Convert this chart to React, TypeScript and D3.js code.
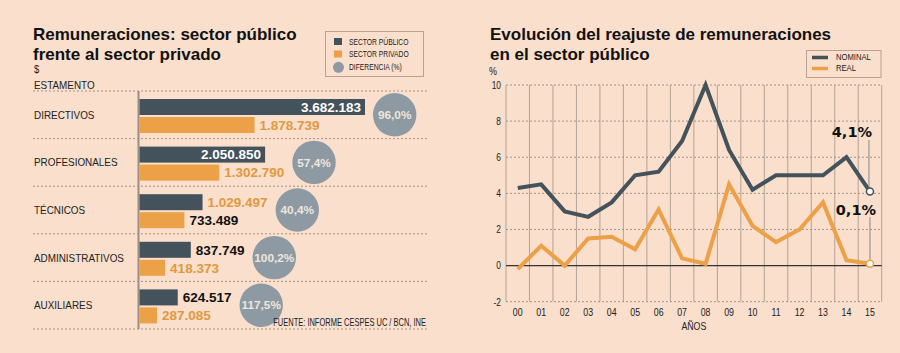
import React from 'react';
import * as d3 from 'd3';

// left chart data
const estamentos = ['DIRECTIVOS', 'PROFESIONALES', 'TÉCNICOS', 'ADMINISTRATIVOS', 'AUXILIARES'];
const sectorPublico = [3682183, 2050850, 1029497, 837749, 624517];
const sectorPrivado = [1878739, 1302790, 733489, 418373, 287085];
const diferencia = ['96,0%', '57,4%', '40,4%', '100,2%', '117,5%'];

// right chart data
const anios = ['00', '01', '02', '03', '04', '05', '06', '07', '08', '09', '10', '11', '12', '13', '14', '15'];
const nominal = [4.3, 4.5, 3.0, 2.7, 3.5, 5.0, 5.2, 6.9, 10.0, 6.4, 4.2, 5.0, 5.0, 5.0, 6.0, 4.1];
const real = [-0.2, 1.1, 0.0, 1.5, 1.6, 0.9, 3.1, 0.4, 0.1, 4.5, 2.2, 1.3, 2.0, 3.5, 0.3, 0.1];
const yTicks = [-2, 0, 2, 4, 6, 8, 10];

const BG = '#f9dfcc';
const DARK = '#44525c';
const ORANGE = '#eca048';
const ORANGE_TXT = '#e0993f';
const GREY = '#8e9aa3';
const GRID = '#a3948a';
const SANS = '"Liberation Sans", Arial, sans-serif';

// rough width of an Arial bold number label
const numFmt = (v: number) => d3.format(',')(v).replace(/,/g, '.');
const textW = (s: string, size: number) =>
  s.split('').reduce((a, c) => a + (c === '.' || c === ',' ? 0.278 : c === '%' ? 0.889 : 0.556), 0) * size;

// condensed text: no narrow face installed, so squeeze horizontally
function CText({ x, y, size, anchor = 'start', sx = 0.78, children }: any) {
  return (
    <text
      transform={`translate(${x},${y}) scale(${sx},1)`}
      textAnchor={anchor}
      fontFamily={SANS}
      fontSize={size}
      fill="#222"
    >
      {children}
    </text>
  );
}

function BarChart() {
  const x = d3.scaleLinear().domain([0, d3.max(sectorPublico) as number]).range([139.5, 365]);
  const y = d3.scaleBand().domain(estamentos).range([91, 329]);
  const step = y.bandwidth();
  const valSize = 13.5;

  return (
    <g>
      <text x={33} y={40} fontFamily={SANS} fontWeight="bold" fontSize={17} fill="#111">
        Remuneraciones: sector público
      </text>
      <text x={33} y={59.5} fontFamily={SANS} fontWeight="bold" fontSize={17} fill="#111">
        frente al sector privado
      </text>
      <CText x={34} y={73} size={10.5} sx={0.9}>$</CText>
      <CText x={34} y={88.5} size={11} sx={0.9}>ESTAMENTO</CText>

      {/* legend */}
      <rect x={325.5} y={31.5} width={98} height={45} fill="none" stroke="#b9a293" />
      <rect x={334} y={38} width={8} height={7} fill={DARK} />
      <rect x={334} y={50.5} width={8} height={7} fill={ORANGE} />
      <circle cx={338.5} cy={67.3} r={5.5} fill={GREY} />
      {['SECTOR PÚBLICO', 'SECTOR PRIVADO', 'DIFERENCIA (%)'].map((t, i) => (
        <CText key={t} x={349} y={45 + i * 12.4} size={9} sx={0.75}>
          {t}
        </CText>
      ))}

      {/* dashed separators */}
      {[...estamentos.map((e) => y(e) as number), 329].map((yy, i) => (
        <line key={i} x1={33} x2={427} y1={yy} y2={yy} stroke={GRID} strokeDasharray="2,2" />
      ))}
      <line x1={138.5} x2={138.5} y1={91} y2={329} stroke="#9a8d85" strokeWidth={2} />

      {estamentos.map((e, i) => {
        const g = y(e) as number;
        const mid = g + step / 2;
        const pubY = g + 8;
        const privY = g + 26;
        const pubEnd = x(sectorPublico[i]);
        const privEnd = x(sectorPrivado[i]);
        const pubTxt = numFmt(sectorPublico[i]);
        const privTxt = numFmt(sectorPrivado[i]);
        const pubInside = pubEnd - x(0) > textW(pubTxt, valSize) + 10;
        const swap = e === 'TÉCNICOS';
        const pubColor = pubInside ? '#fff' : swap ? ORANGE_TXT : '#111';
        const privColor = swap ? '#111' : ORANGE_TXT;
        const pubLabelEnd = pubInside ? pubEnd : pubEnd + 5 + textW(pubTxt, valSize);
        const privLabelEnd = privEnd + 5 + textW(privTxt, valSize);
        const r = 21.7;
        const cx = Math.max(pubLabelEnd, privLabelEnd) + 8 + r;
        return (
          <g key={e}>
            <CText x={34} y={mid + 4} size={11} sx={0.9}>{e}</CText>
            <rect x={x(0)} y={pubY} width={pubEnd - x(0)} height={16} fill={DARK} />
            <rect x={x(0)} y={privY} width={privEnd - x(0)} height={16} fill={ORANGE} />
            <text
              x={pubInside ? pubEnd - 4 : pubEnd + 5}
              y={pubY + 8 + 4.8}
              textAnchor={pubInside ? 'end' : 'start'}
              fontFamily={SANS}
              fontWeight="bold"
              fontSize={valSize}
              fill={pubColor}
            >
              {pubTxt}
            </text>
            <text x={privEnd + 5} y={privY + 8 + 4.8} fontFamily={SANS} fontWeight="bold" fontSize={valSize} fill={privColor}>
              {privTxt}
            </text>
            <circle cx={cx} cy={mid} r={r} fill={GREY} />
            <text x={cx} y={mid + 4.2} textAnchor="middle" fontFamily={SANS} fontWeight="bold" fontSize={11.8} fill="#efe6dc">
              {diferencia[i]}
            </text>
          </g>
        );
      })}

      <CText x={426} y={325.5} size={10} sx={0.75} anchor="end">
        FUENTE: INFORME CESPES UC / BCN, INE
      </CText>
    </g>
  );
}

function LineChart() {
  const x = d3.scaleBand().domain(anios).range([506, 881.7]);
  const y = d3.scaleLinear().domain([-2, 10]).range([301.7, 85]);
  const cx = (d: string) => (x(d) as number) + x.bandwidth() / 2;
  const line = d3
    .line<number>()
    .x((_, i) => cx(anios[i]))
    .y((v) => y(v));
  const last = anios.length - 1;
  const lastX = cx(anios[last]);

  return (
    <g>
      <text x={490} y={40} fontFamily={SANS} fontWeight="bold" fontSize={17} fill="#111">
        Evolución del reajuste de remuneraciones
      </text>
      <text x={490} y={59.5} fontFamily={SANS} fontWeight="bold" fontSize={17} fill="#111">
        en el sector público
      </text>
      <CText x={489} y={75} size={10.5} sx={0.85}>%</CText>

      {/* legend */}
      <rect x={806.5} y={50.5} width={74.5} height={27} fill="none" stroke="#b9a293" />
      <line x1={812} x2={828} y1={57.5} y2={57.5} stroke={DARK} strokeWidth={3.5} />
      <line x1={812} x2={828} y1={68.5} y2={68.5} stroke={ORANGE} strokeWidth={3.5} />
      <CText x={836} y={59.5} size={9} sx={0.85}>NOMINAL</CText>
      <CText x={836} y={71} size={9} sx={0.85}>REAL</CText>

      {/* grid */}
      {[...anios.map((a) => x(a) as number), x.range()[1]].map((xx, i) => (
        <line key={i} x1={xx} x2={xx} y1={y(10)} y2={y(-2)} stroke="#b3a396" strokeWidth={1} />
      ))}
      {yTicks.map((t) => (
        <g key={t}>
          <line
            x1={506}
            x2={881.7}
            y1={y(t)}
            y2={y(t)}
            stroke={t === 0 ? '#333' : GRID}
            strokeWidth={t === 0 ? 1.3 : 1}
            strokeDasharray={t === 0 ? undefined : '2,2'}
          />
          <CText x={501} y={y(t) + 3.8} size={10.5} sx={0.8} anchor="end">
            {t}
          </CText>
        </g>
      ))}
      {anios.map((a) => (
        <CText key={a} x={cx(a)} y={316} size={11} sx={0.8} anchor="middle">
          {a}
        </CText>
      ))}
      <CText x={(506 + 881.7) / 2} y={329.5} size={11} sx={0.8} anchor="middle">
        AÑOS
      </CText>

      <path d={line(real) as string} fill="none" stroke={ORANGE} strokeWidth={4} />
      <path d={line(nominal) as string} fill="none" stroke={DARK} strokeWidth={4} />

      {/* end annotations */}
      <line x1={lastX - 1} x2={lastX - 1} y1={140} y2={y(nominal[last]) - 4} stroke="#888" />
      <line x1={lastX} x2={lastX} y1={217} y2={y(real[last]) - 4} stroke="#888" />
      <circle cx={lastX} cy={y(nominal[last])} r={3.5} fill="#fff" stroke={DARK} strokeWidth={1.5} />
      <circle cx={lastX} cy={y(real[last])} r={3.5} fill="#fff" stroke={ORANGE} strokeWidth={1.5} />
      <text x={872} y={136.7} textAnchor="end" fontFamily="DejaVu Sans, sans-serif" fontWeight="bold" fontSize={14.5} fill="#111">
        {nominal[last].toString().replace('.', ',')}%
      </text>
      <text x={876} y={215} textAnchor="end" fontFamily="DejaVu Sans, sans-serif" fontWeight="bold" fontSize={14.5} fill="#111">
        {real[last].toString().replace('.', ',')}%
      </text>
    </g>
  );
}

export default function App() {
  return (
    <svg width={900} height={353} style={{ position: 'absolute', left: 0, top: 0 }}>
      <rect width={900} height={353} fill={BG} />
      <BarChart />
      <LineChart />
    </svg>
  );
}
